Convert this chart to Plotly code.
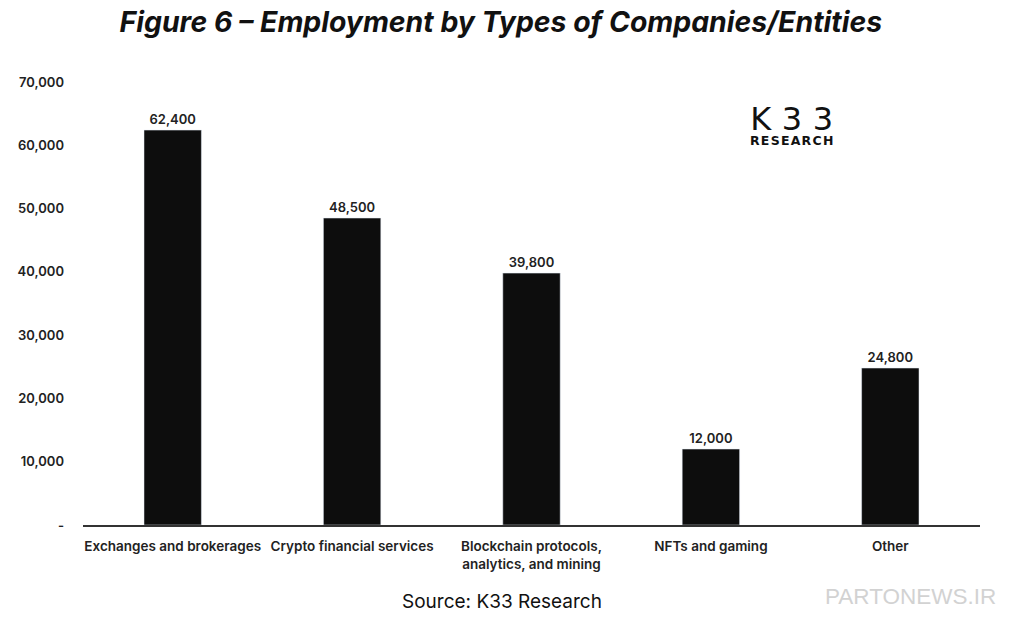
import plotly.graph_objects as go

categories = ['Exchanges and brokerages', 'Crypto financial services',
              'Blockchain protocols,<br>analytics, and mining', 'NFTs and gaming', 'Other']
employees = [62400, 48500, 39800, 12000, 24800]
tick_vals = [0, 10000, 20000, 30000, 40000, 50000, 60000, 70000]
tick_text = ['-', '10,000', '20,000', '30,000', '40,000', '50,000', '60,000', '70,000']

lbl_font = dict(size=13, color='#222', family='Inter', weight=600)

fig = go.Figure()
fig.add_trace(go.Bar(x=categories, y=employees, marker_color='#0d0d0d',
                     text=[f'{v:,}' for v in employees], textposition='outside',
                     textfont=lbl_font, cliponaxis=False))

fig.update_layout(
    width=1018, height=620, plot_bgcolor='white', paper_bgcolor='white',
    margin=dict(l=83, r=38, t=82, b=95, autoexpand=False),
    bargap=0.68, showlegend=False,
    font=dict(family='Inter', color='#222'),
    title=dict(text='<b><i>Figure 6 – Employment by Types of Companies/Entities</i></b>',
               x=0.492, xanchor='center', xref='container', yref='container',
               y=0.965, yanchor='middle', automargin=False,
               font=dict(size=28.4, color='#111', family='Inter', weight=800)),
)
fig.update_yaxes(range=[0, 70000], tickvals=tick_vals, ticktext=tick_text, automargin=False,
                 showgrid=False, zeroline=False, showline=False,
                 tickfont=lbl_font, ticklabelstandoff=18)
fig.update_xaxes(showline=True, linecolor='#333', linewidth=1.5, ticks='', automargin=False,
                 tickfont=dict(size=13.5, color='#222', family='Inter', weight=600),
                 ticklabelstandoff=8)

# logo (one block so the two lines sit together)
fig.add_annotation(text='<span style="font-size:32px">K\u20043\u20043</span><br>'
                        '<span style="font-size:12.5px"><b>R\u200aE\u200aS\u200aE\u200aA\u200aR\u200aC\u200aH</b></span>',
                   x=0.79, y=0.905, xref='paper', yref='paper', showarrow=False,
                   xanchor='center', yanchor='middle',
                   font=dict(size=11.5, family='DejaVu Sans', color='#111'))
# source
fig.add_annotation(text='Source: K33 Research', x=0.467, y=-0.172, xref='paper', yref='paper',
                   showarrow=False, xanchor='center', yanchor='middle',
                   font=dict(size=19, color='#111', family='Inter'))
# watermark
fig.add_annotation(text='PARTONEWS.IR', x=0.922, y=-0.161, xref='paper', yref='paper',
                   showarrow=False, xanchor='center', yanchor='middle',
                   font=dict(size=22.5, color='#d2d2d2', family='Liberation Sans'))

fig.write_html('out.html', config={'displayModeBar': False},
               post_script="document.body.style.margin='0';")
